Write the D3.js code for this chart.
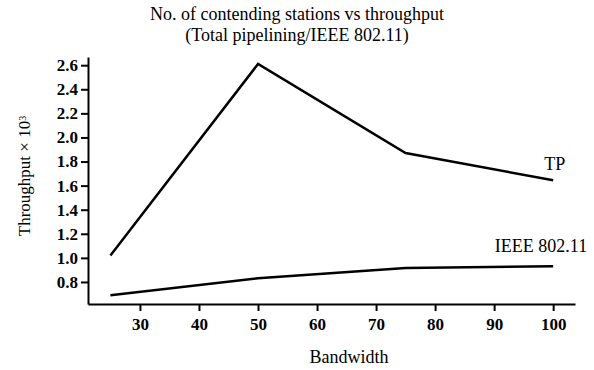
<!DOCTYPE html>
<meta charset="utf-8">
<style>
  body { margin: 0; background: #fff; }
  svg text { font-family: "Liberation Serif", "DejaVu Serif", serif; fill: #000; }
  .axis path, .axis line { stroke: #000; stroke-width: 2px; }
  .axis text { font-size: 17px; font-weight: bold; font-family: "Liberation Serif", serif; }
  .line { fill: none; stroke: #000; stroke-width: 2.5px; }
</style>
<body>
<script src="https://d3js.org/d3.v7.min.js"></script>
<script>
// data
var bandwidth = [25, 50, 75, 100];
var tp = [1.02, 2.61, 1.87, 1.645];
var ieee = [0.69, 0.83, 0.915, 0.93];
var xTicks = [30, 40, 50, 60, 70, 80, 90, 100];
var yTicks = [0.8, 1.0, 1.2, 1.4, 1.6, 1.8, 2.0, 2.2, 2.4, 2.6];

var margin = {top: 57, right: 19, bottom: 66, left: 88},
    width = 594 - margin.left - margin.right,
    height = 370 - margin.top - margin.bottom;

var svg = d3.select("body").append("svg")
    .attr("width", 594)
    .attr("height", 370);

var g = svg.append("g")
    .attr("transform", "translate(" + margin.left + "," + margin.top + ")");

var x = d3.scaleLinear().domain([21.2, 103.7]).range([0, width]);
var y = d3.scaleLinear().domain([0.617, 2.668]).range([height, 0]);

// axes
g.append("g")
    .attr("class", "axis")
    .attr("transform", "translate(0," + height + ")")
    .call(d3.axisBottom(x).tickValues(xTicks).tickSize(7).tickSizeOuter(0).tickPadding(4))
    .selectAll("text").attr("dy", "0.9em");

g.append("g")
    .attr("class", "axis")
    .call(d3.axisLeft(y).tickValues(yTicks).tickSize(7).tickSizeOuter(0).tickPadding(3)
      .tickFormat(d3.format(".1f")));

g.selectAll(".axis").attr("font-family", null).attr("font-size", null);

var line = d3.line()
    .x(function(d) { return x(d[0]); })
    .y(function(d) { return y(d[1]); });

g.append("path")
    .datum(d3.zip(bandwidth, tp))
    .attr("class", "line")
    .attr("d", line);

g.append("path")
    .datum(d3.zip(bandwidth, ieee))
    .attr("class", "line")
    .attr("d", line);

// series labels
g.append("text")
    .attr("x", x(100) + 12)
    .attr("y", y(1.64) - 11)
    .attr("text-anchor", "end")
    .style("font-size", "18px")
    .text("TP");

g.append("text")
    .attr("x", x(100) + 34)
    .attr("y", y(0.93) - 14)
    .attr("text-anchor", "end")
    .style("font-size", "18px")
    .text("IEEE 802.11");

// titles
svg.append("text")
    .attr("x", 297)
    .attr("y", 20)
    .attr("text-anchor", "middle")
    .style("font-size", "18px")
    .text("No. of contending stations vs throughput");

svg.append("text")
    .attr("x", 297)
    .attr("y", 41)
    .attr("text-anchor", "middle")
    .style("font-size", "18px")
    .text("(Total pipelining/IEEE 802.11)");

svg.append("text")
    .attr("x", 349)
    .attr("y", 363)
    .attr("text-anchor", "middle")
    .style("font-size", "18px")
    .text("Bandwidth");

var ylab = svg.append("text")
    .attr("transform", "translate(30,176) rotate(-90)")
    .attr("text-anchor", "middle")
    .style("font-size", "17px");
ylab.append("tspan").text("Throughput \u00d7 10");
ylab.append("tspan").attr("dy", "-0.45em").style("font-size", "10px").text("3");
</script>
</body>
